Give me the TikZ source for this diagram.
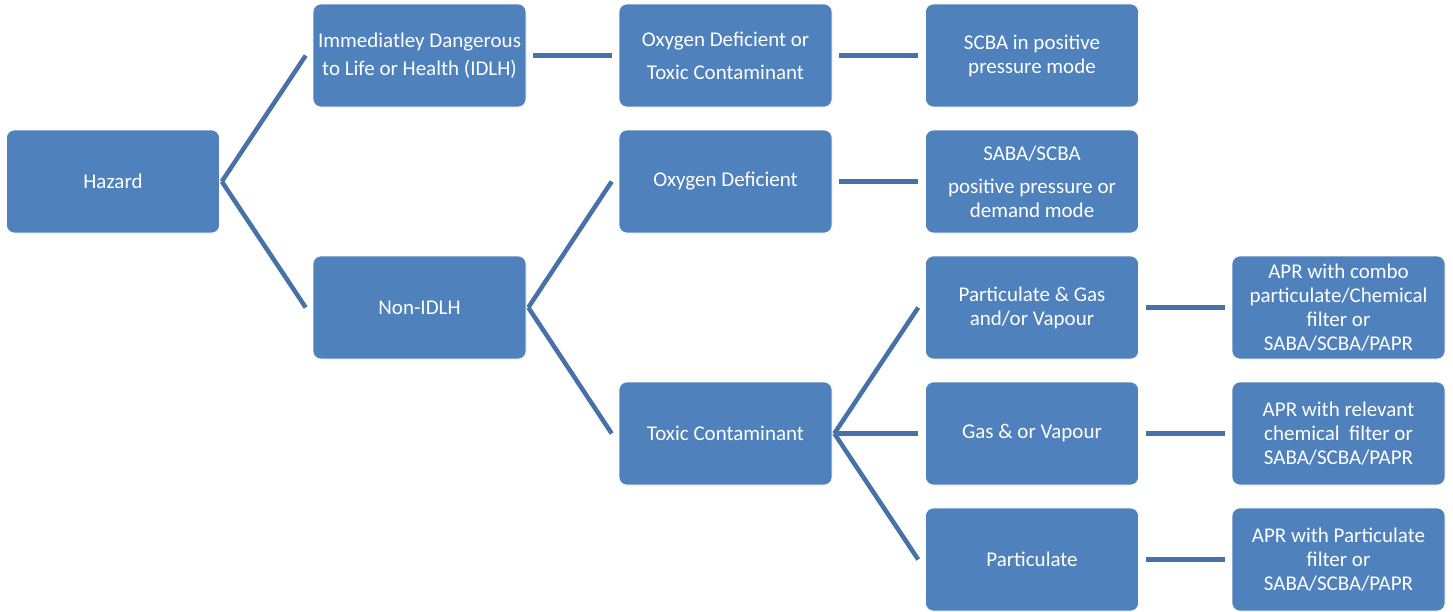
\documentclass[tikz,border=0pt]{standalone}
\usepackage{fontspec}
\setmainfont{Carlito}
\definecolor{BoxClr}{RGB}{79,129,189}
\definecolor{LineClr}{RGB}{70,114,167}

\begin{document}
\begin{tikzpicture}[x=1pt,y=-1pt,
  box/.style={fill=BoxClr,draw=white,line width=0.6pt,rounded corners=8pt,
    minimum width=213pt,minimum height=103pt,inner sep=2pt,
    text=white,align=center,font=\fontsize{21}{24}\selectfont},
  fork/.style={draw=LineClr,line width=4.5pt},
  link/.style={draw=LineClr,line width=4.5pt,shorten >=7pt,shorten <=7pt}]
\useasboundingbox (0,0) rectangle (1453,611);

% boxes
\node[box] (Hazard) at (113,181.5) {Hazard};

\node[box] (IDLH) at (419.5,55.5) {Immediatley Dangerous\\[4pt]to Life or Health (IDLH)};
\node[box] (NonIDLH) at (419.5,307.5) {Non-IDLH};

\node[box] (OxyTox) at (725.5,55.5) {Oxygen Deficient or\\[9pt]Toxic Contaminant};
\node[box] (OxyDef) at (725.5,181.5) {Oxygen Deficient};
\node[box] (Toxic) at (725.5,433.5) {Toxic Contaminant};

\node[box] (SCBA) at (1032,55.5) {SCBA in positive\\pressure mode};
\node[box] (SABA) at (1032,181.5) {SABA/SCBA\\[9pt]positive pressure or\\demand mode};
\node[box] (PartGas) at (1032,307.5) {Particulate \& Gas\\and/or Vapour};
\node[box] (Gas) at (1032,433.5) {Gas \& or Vapour};
\node[box] (Part) at (1032,559.5) {Particulate};

\node[box] (AprCombo) at (1338.5,307.5) {APR with combo\\particulate/Chemical\\filter or\\SABA/SCBA/PAPR};
\node[box] (AprChem) at (1338.5,433.5) {APR with relevant\\chemical\ \ filter or\\SABA/SCBA/PAPR};
\node[box] (AprPart) at (1338.5,559.5) {APR with Particulate\\filter or\\SABA/SCBA/PAPR};

% connectors
\draw[fork] ([xshift=2pt]Hazard.east) -- ([xshift=-7pt]IDLH.west);
\draw[fork] ([xshift=2pt]Hazard.east) -- ([xshift=-7pt]NonIDLH.west);
\draw[fork] ([xshift=2pt]NonIDLH.east) -- ([xshift=-7pt]OxyDef.west);
\draw[fork] ([xshift=2pt]NonIDLH.east) -- ([xshift=-7pt]Toxic.west);
\draw[fork] ([xshift=2pt]Toxic.east) -- ([xshift=-7pt]PartGas.west);
\draw[fork] ([xshift=2pt]Toxic.east) -- ([xshift=-7pt]Gas.west);
\draw[fork] ([xshift=2pt]Toxic.east) -- ([xshift=-7pt]Part.west);

\draw[link] (IDLH) -- (OxyTox);
\draw[link] (OxyTox) -- (SCBA);
\draw[link] (OxyDef) -- (SABA);
\draw[link] (PartGas) -- (AprCombo);
\draw[link] (Gas) -- (AprChem);
\draw[link] (Part) -- (AprPart);

\end{tikzpicture}
\end{document}
